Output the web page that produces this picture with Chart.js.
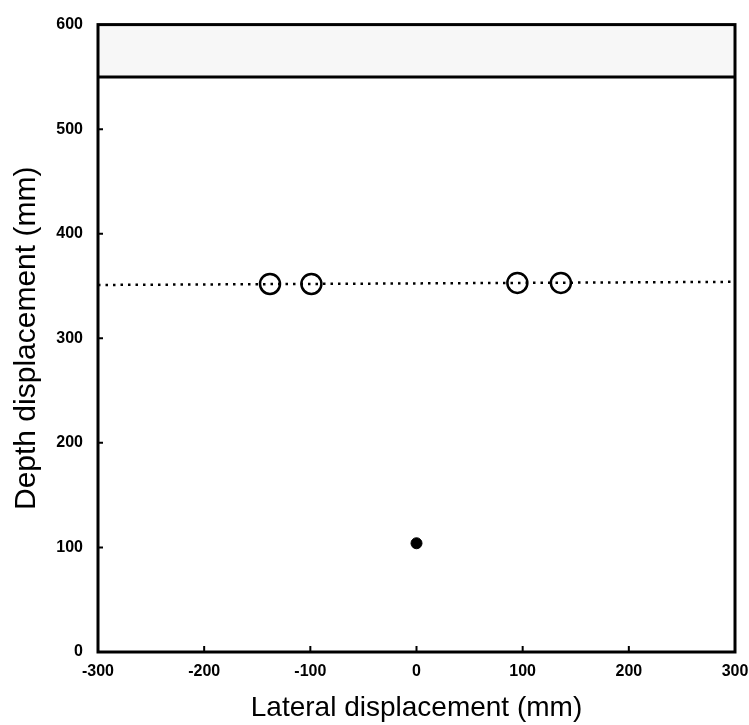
<!DOCTYPE html>
<html lang="en">
<head>
    <meta charset="UTF-8">
    <title>Depth vs lateral displacement</title>
    <script src="https://cdn.jsdelivr.net/npm/chart.js"></script>
    <style>
        body {
            margin: 0;
            padding: 0;
            background-color: #fff;
        }
        #wrap {
            width: 749px;
            height: 725px;
        }
    </style>
</head>
<body>
    <div id="wrap">
        <canvas id="plot" width="749" height="725"></canvas>
    </div>

    <script>
        // axis ticks
        const xTicks = [-300, -200, -100, 0, 100, 200, 300];
        const yTicks = [0, 100, 200, 300, 400, 500, 600];

        // dotted reference line (slightly tilted in the scan)
        const lineX = [-300, 300];
        const lineY = [351, 354];

        // open circles
        const openX = [-138, -99, 95, 136];
        const openY = [352, 352, 353, 353];

        // filled marker
        const solidX = [0];
        const solidY = [104];

        // shaded band at the top
        const bandX = [-300, 300];
        const bandY = [550, 550];

        const toPts = (xs, ys) => xs.map((x, i) => ({ x: x, y: ys[i] }));

        // border round the plot area and small inward tick marks
        const framePlugin = {
            id: 'frame',
            afterDatasetsDraw(chart) {
                const { ctx, chartArea: a, scales } = chart;
                ctx.save();
                ctx.strokeStyle = '#000';
                ctx.lineWidth = 3;
                ctx.strokeRect(a.left, a.top, a.right - a.left, a.bottom - a.top);

                ctx.lineWidth = 2;
                ctx.beginPath();
                xTicks.slice(1, -1).forEach(v => {
                    const px = scales.x.getPixelForValue(v);
                    ctx.moveTo(px, a.bottom);
                    ctx.lineTo(px, a.bottom - 6);
                });
                yTicks.slice(1, -1).forEach(v => {
                    const py = scales.y.getPixelForValue(v);
                    ctx.moveTo(a.left, py);
                    ctx.lineTo(a.left + 5, py);
                });
                ctx.stroke();
                ctx.restore();
            }
        };

        const tickFont = { family: "'Liberation Sans', Arial, sans-serif", size: 16, weight: 'bold' };

        new Chart(document.getElementById('plot').getContext('2d'), {
            type: 'scatter',
            data: {
                datasets: [
                    {
                        label: 'band',
                        type: 'line',
                        data: toPts(bandX, bandY),
                        borderColor: '#000',
                        borderWidth: 3,
                        backgroundColor: '#f7f7f7',
                        fill: 'end',
                        pointRadius: 0
                    },
                    {
                        label: 'reference',
                        type: 'line',
                        data: toPts(lineX, lineY),
                        borderColor: '#000',
                        borderWidth: 2.5,
                        borderDash: [2.5, 5],
                        fill: false,
                        pointRadius: 0
                    },
                    {
                        label: 'open',
                        data: toPts(openX, openY),
                        pointStyle: 'circle',
                        pointRadius: 10,
                        borderColor: '#000',
                        borderWidth: 2.5,
                        backgroundColor: 'rgba(0,0,0,0)'
                    },
                    {
                        label: 'solid',
                        data: toPts(solidX, solidY),
                        pointStyle: 'circle',
                        pointRadius: 5.5,
                        borderColor: '#000',
                        backgroundColor: '#000'
                    }
                ]
            },
            options: {
                responsive: false,
                animation: false,
                layout: { padding: { left: 0, top: 23, right: 0, bottom: 0 } },
                plugins: {
                    legend: { display: false },
                    tooltip: { enabled: false }
                },
                scales: {
                    x: {
                        type: 'linear',
                        min: -300,
                        max: 300,
                        afterFit: s => {
                            s.height = 73;
                            s.paddingLeft = 0;
                            s.paddingRight = 14;
                        },
                        afterBuildTicks: s => { s.ticks = xTicks.map(v => ({ value: v })); },
                        grid: { display: false, drawTicks: false },
                        border: { display: false },
                        ticks: { color: '#000', font: tickFont, padding: 10, maxRotation: 0 },
                        title: {
                            display: true,
                            text: 'Lateral displacement (mm)',
                            color: '#000',
                            font: { family: "'Liberation Sans', Arial, sans-serif", size: 28 },
                            padding: 0
                        }
                    },
                    y: {
                        type: 'linear',
                        min: 0,
                        max: 600,
                        afterFit: s => { s.width = 98; },
                        afterBuildTicks: s => { s.ticks = yTicks.map(v => ({ value: v })); },
                        grid: { display: false, drawTicks: false },
                        border: { display: false },
                        ticks: { color: '#000', font: tickFont, padding: 15 },
                        title: {
                            display: true,
                            text: 'Depth displacement (mm)',
                            color: '#000',
                            font: { family: "'Liberation Sans', Arial, sans-serif", size: 30 },
                            padding: 9
                        }
                    }
                }
            },
            plugins: [framePlugin]
        });
    </script>
</body>
</html>
